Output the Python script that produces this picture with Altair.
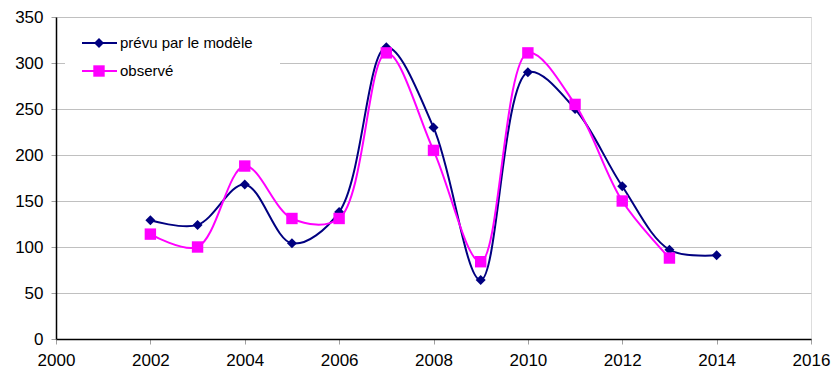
import altair as alt
import pandas as pd

years = [2002, 2003, 2004, 2005, 2006, 2007, 2008, 2009, 2010, 2011, 2012, 2013, 2014]
prevu = [129, 124, 168, 104, 138, 317, 230, 64, 290, 250, 166, 97, 91]
obs_years = [2002, 2003, 2004, 2005, 2006, 2007, 2008, 2009, 2010, 2011, 2012, 2013]
observe = [114, 100, 188, 131, 131, 311, 205, 84, 311, 255, 150, 88]
series_names = ["prévu par le modèle", "observé"]
colors = ["#000080", "#FF00FF"]

df_p = pd.DataFrame({"year": years, "value": prevu})
df_o = pd.DataFrame({"year": obs_years, "value": observe})

FONT = "Liberation Sans"

x = alt.X("year:Q", scale=alt.Scale(domain=[2000, 2016], nice=False),
          axis=alt.Axis(values=list(range(2000, 2017, 2)), format="d", title=None,
                        grid=False, domainColor="black", domainWidth=1.5,
                        tickColor="#a0a0a0", tickSize=5, labelFontSize=17,
                        labelFont=FONT, labelColor="black", labelPadding=8,
                        labelFlush=False, labelOverlap=False))
y = alt.Y("value:Q", scale=alt.Scale(domain=[0, 350], nice=False),
          axis=alt.Axis(values=list(range(0, 351, 50)), title=None,
                        grid=True, gridColor="#c0c0c0", gridWidth=1,
                        domainColor="black", domainWidth=1.5,
                        tickColor="#a0a0a0", tickSize=5, labelFontSize=17,
                        labelFont=FONT, labelColor="black", labelPadding=8,
                        labelFlush=False, labelOverlap=False))

line_p = alt.Chart(df_p).mark_line(interpolate="catmull-rom", color=colors[0], strokeWidth=2).encode(x=x, y=y)
pts_p = alt.Chart(df_p).mark_point(shape="diamond", filled=True, size=100, color=colors[0], opacity=1).encode(x=x, y=y)
line_o = alt.Chart(df_o).mark_line(interpolate="catmull-rom", color=colors[1], strokeWidth=2).encode(x=x, y=y)
pts_o = alt.Chart(df_o).mark_point(shape="square", filled=True, size=130, color=colors[1], opacity=1).encode(x=x, y=y)

# Legend (manual)
leg_bg = alt.Chart(pd.DataFrame({"a": [0]})).mark_rect(color="white").encode(
    x=alt.value(9), x2=alt.value(224), y=alt.value(8), y2=alt.value(70))
leg_parts = []
for i, (nm, col, shp, sz) in enumerate(zip(series_names, colors, ["diamond", "square"], [100, 130])):
    yy = 26 + 28 * i
    d = pd.DataFrame({"name": [nm]})
    leg_parts.append(alt.Chart(d).mark_rule(color=col, strokeWidth=2).encode(
        x=alt.value(26), x2=alt.value(61), y=alt.value(yy)))
    leg_parts.append(alt.Chart(d).mark_point(shape=shp, filled=True, size=sz, color=col, opacity=1).encode(
        x=alt.value(43), y=alt.value(yy)))
    leg_parts.append(alt.Chart(d).mark_text(align="left", baseline="middle", font=FONT, fontSize=15, color="black").encode(
        x=alt.value(64), y=alt.value(yy), text="name:N"))

chart = alt.layer(line_p, pts_p, line_o, pts_o, leg_bg, *leg_parts).properties(
    width=755, height=322,
    autosize=alt.AutoSizeParams(type="none"),
    padding={"left": 48, "top": 9, "right": 20, "bottom": 30},
).configure_view(stroke="#8a8a8a", strokeWidth=1.5).configure(background="white")

chart.save("out.html", embed_options={"renderer": "svg", "actions": False})
